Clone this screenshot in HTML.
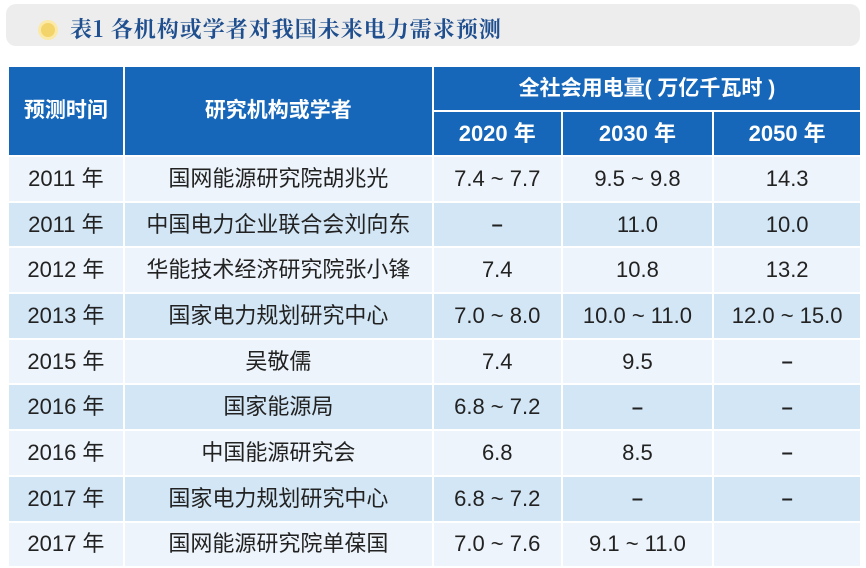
<!DOCTYPE html>
<html><head><meta charset="utf-8"><style>
body{margin:0;width:866px;height:566px;background:#fff;overflow:hidden;position:relative;font-family:"Liberation Sans","Noto Sans CJK SC",sans-serif}
.tb{position:absolute;left:6px;top:4px;width:854px;height:42px;background:#ededed;border-radius:10px}
.dot{position:absolute;left:32px;top:16px;width:14px;height:14px;border-radius:50%;background:#f3d46a;border:3px solid #fbe9a8}
.tt{position:absolute;left:64px;top:9px;font-family:"Noto Serif CJK SC",serif;font-weight:bold;font-size:22px;color:#1f4f8f;letter-spacing:1px}
table{position:absolute;left:7px;top:65px;border-collapse:collapse;width:855px}
td{text-align:center;padding:0;font-size:22px;color:#222;height:43.7px;border:2px solid #fff;line-height:22px}
.h td{background:#1667b9;color:#fff;font-weight:bold;font-size:21px;height:43px}
tr.o td{background:#edf4fb}
tr.e td{background:#d3e6f5}
b{font-size:20px}
</style></head><body>
<div class="tb"><div class="dot"></div><div class="tt">表1 各机构或学者对我国未来电力需求预测</div></div>
<table>
<colgroup><col style="width:116px"><col style="width:310px"><col style="width:129px"><col style="width:152px"><col style="width:148px"></colgroup>
<tr class="h"><td rowspan="2">预测时间</td><td rowspan="2">研究机构或学者</td><td colspan="3">全社会用电量( 万亿千瓦时 )</td></tr>
<tr class="h"><td style="font-size:22px">2020 年</td><td style="font-size:22px">2030 年</td><td style="font-size:22px">2050 年</td></tr>
<tr class="o"><td>2011 年</td><td>国网能源研究院胡兆光</td><td>7.4 ~ 7.7</td><td>9.5 ~ 9.8</td><td>14.3</td></tr>
<tr class="e"><td>2011 年</td><td>中国电力企业联合会刘向东</td><td><b>–</b></td><td>11.0</td><td>10.0</td></tr>
<tr class="o"><td>2012 年</td><td>华能技术经济研究院张小锋</td><td>7.4</td><td>10.8</td><td>13.2</td></tr>
<tr class="e"><td>2013 年</td><td>国家电力规划研究中心</td><td>7.0 ~ 8.0</td><td>10.0 ~ 11.0</td><td>12.0 ~ 15.0</td></tr>
<tr class="o"><td>2015 年</td><td>吴敬儒</td><td>7.4</td><td>9.5</td><td><b>–</b></td></tr>
<tr class="e"><td>2016 年</td><td>国家能源局</td><td>6.8 ~ 7.2</td><td><b>–</b></td><td><b>–</b></td></tr>
<tr class="o"><td>2016 年</td><td>中国能源研究会</td><td>6.8</td><td>8.5</td><td><b>–</b></td></tr>
<tr class="e"><td>2017 年</td><td>国家电力规划研究中心</td><td>6.8 ~ 7.2</td><td><b>–</b></td><td><b>–</b></td></tr>
<tr class="o"><td>2017 年</td><td>国网能源研究院单葆国</td><td>7.0 ~ 7.6</td><td>9.1 ~ 11.0</td><td></td></tr>
</table>
</body></html>
